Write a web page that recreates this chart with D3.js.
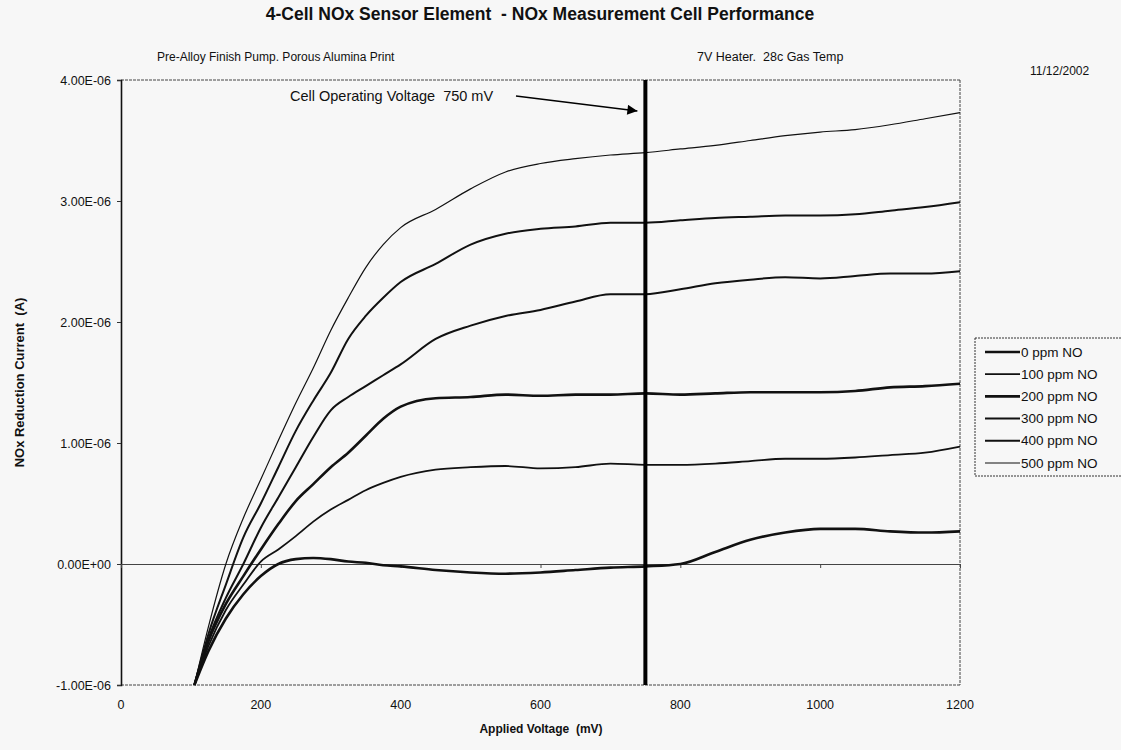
<!DOCTYPE html>
<html>
<head>
<meta charset="utf-8">
<script src="https://cdn.jsdelivr.net/npm/d3@7"></script>
<style>
  html, body { margin: 0; padding: 0; background: #f7f7f7; }
  svg { display: block; font-family: "Liberation Sans", Arial, sans-serif; }
  text { white-space: pre; }
</style>
</head>
<body>
<svg id="chart" width="1121" height="750"></svg>
<script>
// ---- data (current in units of 1E-06 A) ----
const voltages = [105,125,150,175,200,225,250,275,300,325,350,375,400,450,500,550,600,650,700,750,800,850,900,950,1000,1050,1100,1150,1200];
const ppm0   = [-1.00,-0.72,-0.45,-0.25,-0.10,0.00,0.04,0.05,0.04,0.02,0.01,-0.01,-0.02,-0.05,-0.07,-0.08,-0.07,-0.05,-0.03,-0.02,0.00,0.10,0.20,0.26,0.29,0.29,0.27,0.26,0.27];
const ppm100 = [-1.00,-0.68,-0.38,-0.17,0.02,0.12,0.23,0.35,0.45,0.53,0.61,0.67,0.72,0.78,0.80,0.81,0.79,0.80,0.83,0.82,0.82,0.83,0.85,0.87,0.87,0.88,0.90,0.92,0.97];
const ppm200 = [-1.00,-0.64,-0.33,-0.10,0.12,0.33,0.52,0.66,0.80,0.92,1.06,1.20,1.30,1.37,1.38,1.40,1.39,1.40,1.40,1.41,1.40,1.41,1.42,1.42,1.42,1.43,1.46,1.47,1.49];
const ppm300 = [-1.00,-0.62,-0.28,0.00,0.30,0.55,0.80,1.05,1.27,1.38,1.47,1.56,1.65,1.86,1.97,2.05,2.10,2.17,2.23,2.23,2.27,2.32,2.35,2.37,2.36,2.38,2.40,2.40,2.42];
const ppm400 = [-1.00,-0.58,-0.17,0.22,0.50,0.80,1.10,1.35,1.58,1.86,2.05,2.20,2.33,2.48,2.64,2.73,2.77,2.79,2.82,2.82,2.84,2.86,2.87,2.88,2.88,2.89,2.92,2.95,2.99];
const ppm500 = [-1.00,-0.52,0.00,0.38,0.70,1.02,1.33,1.62,1.93,2.20,2.45,2.64,2.78,2.93,3.10,3.24,3.31,3.35,3.38,3.40,3.43,3.46,3.50,3.54,3.57,3.59,3.63,3.68,3.73];
const seriesNames = ["0 ppm NO","100 ppm NO","200 ppm NO","300 ppm NO","400 ppm NO","500 ppm NO"];
const seriesValues = [ppm0, ppm100, ppm200, ppm300, ppm400, ppm500];
const seriesWidths = [2.6, 1.8, 2.6, 2.0, 2.0, 1.2];
const xTicks = [0,200,400,600,800,1000,1200];
const yTicks = [-1,0,1,2,3,4];
const yTickLabels = ["-1.00E-06","0.00E+00","1.00E-06","2.00E-06","3.00E-06","4.00E-06"];
const operatingVoltage = 750;

const svg = d3.select("#chart");
const x = d3.scaleLinear().domain([0,1200]).range([121,960]);
const y = d3.scaleLinear().domain([-1,4]).range([685,80]);

svg.append("rect").attr("width",1121).attr("height",750).attr("fill","#f7f7f7");

// Titles
svg.append("text").attr("x",540).attr("y",20).attr("text-anchor","middle")
  .attr("font-size",17.5).attr("font-weight","bold").attr("fill","#111")
  .text("4-Cell NOx Sensor Element  - NOx Measurement Cell Performance");
svg.append("text").attr("x",157).attr("y",61).attr("font-size",12).attr("fill","#111")
  .text("Pre-Alloy Finish Pump. Porous Alumina Print");
svg.append("text").attr("x",697).attr("y",61).attr("font-size",12.5).attr("fill","#111")
  .text("7V Heater.  28c Gas Temp");
svg.append("text").attr("x",1030).attr("y",75).attr("font-size",12).attr("fill","#111")
  .text("11/12/2002");

// plot frame
svg.append("line").attr("x1",x(0)).attr("x2",x(1200)).attr("y1",y(4)).attr("y2",y(4))
  .attr("stroke","#444").attr("stroke-width",1).attr("stroke-dasharray","3,1");
svg.append("line").attr("x1",x(1200)).attr("x2",x(1200)).attr("y1",y(4)).attr("y2",y(-1))
  .attr("stroke","#444").attr("stroke-width",1).attr("stroke-dasharray","3,1");
svg.append("line").attr("x1",x(0)).attr("x2",x(1200)).attr("y1",y(-1)).attr("y2",y(-1))
  .attr("stroke","#444").attr("stroke-width",1).attr("stroke-dasharray","3,1");

// y axis
const yAxis = d3.axisLeft(y).tickValues(yTicks).tickSize(4).tickPadding(6)
  .tickFormat((d,i) => yTickLabels[i]);
const gy = svg.append("g").attr("transform",`translate(${x(0)},0)`).call(yAxis);
gy.select(".domain").attr("stroke","#111").attr("stroke-width",1.6);
gy.selectAll(".tick line").attr("stroke","#333");
gy.selectAll(".tick text").attr("font-size",12.5).attr("fill","#111")
  .attr("font-family","Liberation Sans, Arial, sans-serif");

// x axis crossing at zero
const xAxis = d3.axisBottom(x).tickValues(xTicks).tickSize(4).tickFormat("");
const gx = svg.append("g").attr("transform",`translate(0,${y(0)})`).call(xAxis);
gx.select(".domain").attr("stroke","#444").attr("stroke-width",1);
gx.selectAll(".tick line").attr("stroke","#444");
// x tick labels at low position
svg.append("g").selectAll("text").data(xTicks).join("text")
  .attr("x",d => x(d)).attr("y",709).attr("text-anchor","middle")
  .attr("font-size",12.5).attr("fill","#111").text(d => d);

// axis titles
svg.append("text").attr("x",541).attr("y",733).attr("text-anchor","middle")
  .attr("font-size",12).attr("font-weight","bold").attr("fill","#111")
  .text("Applied Voltage  (mV)");
svg.append("text").attr("transform",`translate(24,${(y(4)+y(-1))/2}) rotate(-90)`)
  .attr("text-anchor","middle").attr("font-size",13).attr("font-weight","bold").attr("fill","#111")
  .text("NOx Reduction Current  (A)");

// series
const line = d3.line().x((d,i) => x(voltages[i])).y(d => y(d)).curve(d3.curveMonotoneX);
svg.append("g").selectAll("path").data(seriesValues).join("path")
  .attr("d", d => line(d)).attr("fill","none").attr("stroke","#111")
  .attr("stroke-width",(d,i) => seriesWidths[i]).attr("stroke-linejoin","round");

// operating voltage line
svg.append("line").attr("x1",x(operatingVoltage)).attr("x2",x(operatingVoltage))
  .attr("y1",y(4)).attr("y2",y(-1)).attr("stroke","#000").attr("stroke-width",4);

// annotation
svg.append("defs").append("marker").attr("id","arrow").attr("viewBox","0 0 10 10")
  .attr("refX",10).attr("refY",5).attr("markerWidth",14).attr("markerHeight",10)
  .attr("markerUnits","userSpaceOnUse").attr("orient","auto")
  .append("path").attr("d","M0,0 L10,5 L0,10 z").attr("fill","#000");
svg.append("text").attr("x",290).attr("y",101)
  .attr("font-size",14.5).attr("fill","#111").text("Cell Operating Voltage  750 mV");
svg.append("line").attr("x1",516).attr("y1",96).attr("x2",x(operatingVoltage)-8).attr("y2",111)
  .attr("stroke","#000").attr("stroke-width",1.3).attr("marker-end","url(#arrow)");

// legend
const lg = svg.append("g");
lg.append("rect").attr("x",975).attr("y",338).attr("width",160).attr("height",138)
  .attr("fill","#f7f7f7").attr("stroke","#333").attr("stroke-width",1).attr("stroke-dasharray","2,1");
const items = lg.selectAll("g.item").data(seriesNames).join("g").attr("class","item")
  .attr("transform",(d,i) => `translate(0,${352 + i*22.2})`);
items.append("line").attr("x1",985).attr("x2",1020).attr("y1",0).attr("y2",0)
  .attr("stroke","#111").attr("stroke-width",(d,i) => seriesWidths[i]);
items.append("text").attr("x",1021).attr("y",4.5).attr("font-size",13.5).attr("fill","#111").text(d => d);
</script>
</body>
</html>
